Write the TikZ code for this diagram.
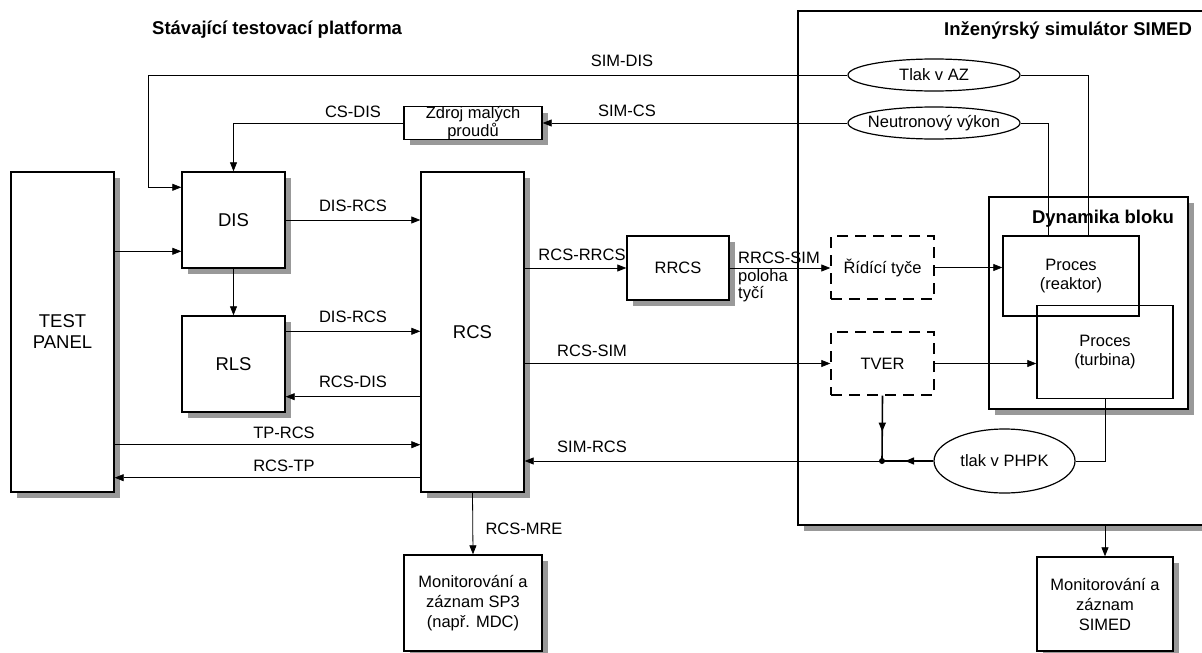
\documentclass[tikz,border=0pt]{standalone}
\usepackage{fontspec}
\setmainfont{Liberation Sans}
\usetikzlibrary{arrows.meta,shapes.geometric,decorations.markings}

% grey drop shadow, 6pt down and right, of a box given by centre and size
\newcommand\boxshadow[4]{%
  \fill[shadowfill] ({#1-#3/2+6},{#2-#4/2+6}) rectangle ({#1+#3/2+6},{#2+#4/2+6});}

\begin{document}
\begin{tikzpicture}[x=1pt,y=-1pt,
  font=\fontsize{16.5}{19}\selectfont,
  >={Triangle[length=9pt,width=7pt]},
  conn/.style={line width=0.8pt},
  arr/.style={conn,->},
  bus/.style={line width=1.6pt},
  midarrow/.style={postaction={decorate},
    decoration={markings, mark=at position 0.55 with {\arrow{>}}}},
  shadowfill/.style={fill=black!40},
  shbox/.style={draw, line width=1.4pt, fill=white, inner sep=0pt, align=center},
  bigname/.style={shbox, font=\fontsize{18.5}{21}\selectfont},
  plainbox/.style={draw, line width=1.4pt, inner sep=0pt, align=center},
  dashbox/.style={draw, line width=1.4pt, dash pattern=on 11pt off 7pt,
    inner sep=0pt, align=center},
  oval/.style={draw, ellipse, line width=1.2pt, fill=white, inner sep=0pt},
  lbl/.style={inner sep=0pt, anchor=base},
  ttl/.style={inner sep=0pt, anchor=base, font=\bfseries\fontsize{18.5}{21}\selectfont}
]
\useasboundingbox (0,0) rectangle (1202,653);
\clip (0,0) rectangle (1202,653);

% ---- simulator frame ----
\boxshadow{1006.5}{268}{417}{514}
\node[shbox, minimum width=417pt, minimum height=514pt] (simed) at (1006.5,268) {};
\node[ttl] (simedttl) at (1068,35) {Inženýrský simulátor SIMED};
\node[ttl, anchor=base west] (platttl) at (152,34) {Stávající testovací platforma};

% ---- plant dynamics ----
\boxshadow{1088.5}{303}{199}{212}
\node[shbox, minimum width=199pt, minimum height=212pt] (dyn) at (1088.5,303) {};
\node[ttl] (dynttl) at (1103,223) {Dynamika bloku};
\node[plainbox, minimum width=136pt, minimum height=80pt] (reak) at (1071,276) {Proces\\(reaktor)};
\node[plainbox, minimum width=136pt, minimum height=93pt] (turb) at (1105,352) {Proces\\(turbina)};

% ---- test platform blocks ----
\boxshadow{62.5}{332}{103}{320}
\node[bigname, minimum width=103pt, minimum height=320pt] (tp) at (62.5,332) {TEST\\PANEL};
\boxshadow{233.5}{220}{103}{96}
\node[bigname, minimum width=103pt, minimum height=96pt] (dis) at (233.5,220) {DIS};
\boxshadow{233.5}{364}{103}{96}
\node[bigname, minimum width=103pt, minimum height=96pt] (rls) at (233.5,364) {RLS};
\boxshadow{472.5}{332}{103}{320}
\node[bigname, minimum width=103pt, minimum height=320pt] (rcs) at (472.5,332) {RCS};
\boxshadow{473}{123}{138}{32}
\node[shbox, minimum width=138pt, minimum height=32pt,
  font=\fontsize{16.5}{13}\selectfont] (zdroj) at (473,123) {Zdroj malých\\proudů};
\boxshadow{678}{268}{102}{64}
\node[shbox, minimum width=102pt, minimum height=64pt] (rrcs) at (678,268) {RRCS};
\boxshadow{473}{603}{138}{96}
\node[shbox, minimum width=138pt, minimum height=96pt,
  font=\fontsize{16.5}{20}\selectfont] (mre) at (473,603) {Monitorování a\\záznam SP3\\(např. MDC)};
\boxshadow{1105}{604}{136}{94}
\node[shbox, minimum width=136pt, minimum height=94pt,
  font=\fontsize{16.5}{20}\selectfont] (msim) at (1105,604) {Monitorování a\\záznam\\SIMED};

% ---- simulator interface blocks ----
\node[dashbox, minimum width=103pt, minimum height=63pt] (rt) at (882.5,267.5) {Řídící tyče};
\node[dashbox, minimum width=103pt, minimum height=63pt] (tver) at (882.5,363.5) {TVER};
\node[oval, minimum width=172pt, minimum height=32pt] (tlakaz) at (934,75) {\makebox[0pt]{Tlak v AZ}};
\node[oval, minimum width=172pt, minimum height=32pt] (neut) at (934,123) {\makebox[0pt]{Neutronový výkon}};
\node[oval, minimum width=141pt, minimum height=64pt] (phpk) at (1004.5,461) {\makebox[0pt]{tlak v PHPK}};
\node[circle, fill, inner sep=0pt, minimum size=6pt] (dot) at (882,461) {};

% ---- helper points ----
\coordinate (simdis) at (148,75);
\coordinate (dIn) at ([yshift=-80pt]dis.north west);
\coordinate (dTop) at ([yshift=-16pt]dis.north west);
\coordinate (rA) at ([yshift=-16pt]rls.north east);
\coordinate (rB) at ([yshift=16pt]rls.south east);
\coordinate (tA) at ([yshift=48pt]tp.south east);
\coordinate (tB) at ([yshift=15pt]tp.south east);

% ---- connectors ----
\draw[arr] (tlakaz.west) -- (simdis) |- (dTop);
\draw[arr] (neut.west) -- (zdroj.east);
\draw[arr] (zdroj.west) -| (dis.north);
\draw[arr] (tp.east |- dIn) -- (dIn);
\draw[arr] (dis.south) -- (rls.north);
\draw[arr] (dis.east) -- (dis.east -| rcs.west);
\draw[arr] (rA) -- (rA -| rcs.west);
\draw[arr] (rB -| rcs.west) -- (rB);
\draw[arr] (tA) -- (tA -| rcs.west);
\draw[arr] (tB -| rcs.west) -- (tB);
\draw[arr] (rcs.east |- rrcs.west) -- (rrcs.west);
\draw[arr] (rrcs.east) -- (rrcs.east -| rt.west);
\draw[arr] (rcs.east |- tver.west) -- (tver.west);
\draw[arr] (rt.east) -- (rt.east -| reak.west);
\draw[arr] (tver.east) -- (tver.east -| turb.west);
\draw[conn] (tlakaz.east) -| ([xshift=17pt]reak.north);
\draw[conn] (neut.east) -| ([xshift=-23pt]reak.north);
\draw[conn] (turb.south) |- (phpk.east);
\draw[bus, midarrow] (phpk.west) -- (dot.center);
\draw[bus, midarrow] (tver.south) -- (dot.center);
\draw[arr] (dot.center) -- (dot.center -| rcs.east);
\draw[arr] (rcs.south) -- (mre.north);
\draw[arr] (simed.south -| msim.north) -- (msim.north);

% ---- connector labels ----
\node[lbl] (lsimdis) at (622,66) {SIM-DIS};
\node[lbl] (lcsdis) at (353,117) {CS-DIS};
\node[lbl] (lsimcs) at (627,116) {SIM-CS};
\node[lbl] (ldisrcs) at (353,211) {DIS-RCS};
\node[lbl] (ldisrcsb) at (353,322) {DIS-RCS};
\node[lbl] (lrcsdis) at (353,387) {RCS-DIS};
\node[lbl] (ltprcs) at (284,438) {TP-RCS};
\node[lbl] (lrcstp) at (284,471) {RCS-TP};
\node[lbl] (lrcsrrcs) at (582,260) {RCS-RRCS};
\node[lbl] (lrcssim) at (592,356) {RCS-SIM};
\node[lbl] (lsimrcs) at (592,452) {SIM-RCS};
\node[lbl] (lrrcssim) at (779,263) {RRCS-SIM};
\node[inner sep=0pt, anchor=base west, align=left,
  font=\fontsize{16.5}{13}\selectfont] (lpoloha) at (738,298) {poloha\\tyčí};
\node[lbl] (lrcsmre) at (524,534) {RCS-MRE};
\end{tikzpicture}
\end{document}
